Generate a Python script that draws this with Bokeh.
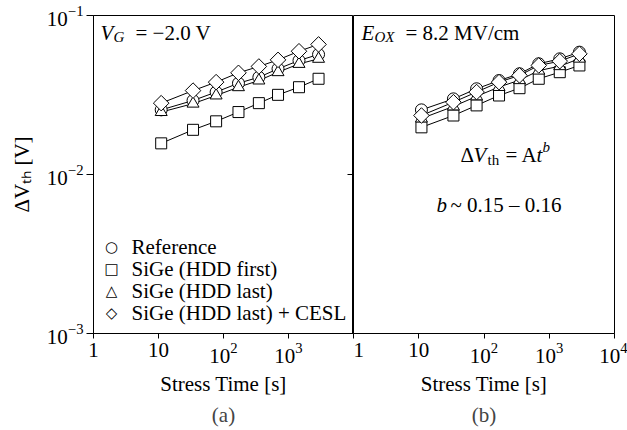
import math
from bokeh.plotting import figure
from bokeh.layouts import row
from bokeh.models import (Range1d, FixedTicker, LogTickFormatter, Label, Title,
                          ColumnDataSource)
from bokeh.embed import file_html
from bokeh.resources import INLINE

# ---------------- data ----------------
stress_time = [11, 34, 77, 170, 350, 690, 1450, 2900]          # s

# (a)  V_G = -2.0 V
a_reference = [0.0255, 0.0292, 0.0330, 0.0375, 0.0409, 0.0462, 0.0521, 0.0569]
a_hdd_first = [0.0157, 0.0191, 0.0216, 0.0247, 0.0281, 0.0317, 0.0354, 0.0400]
a_hdd_last  = [0.0247, 0.0279, 0.0314, 0.0354, 0.0390, 0.0440, 0.0496, 0.0534]
a_hdd_cesl  = [0.0281, 0.0337, 0.0381, 0.0436, 0.0478, 0.0526, 0.0596, 0.0658]

# (b)  E_OX = 8.2 MV/cm
b_reference = [0.0255, 0.0299, 0.0346, 0.0390, 0.0430, 0.0497, 0.0534, 0.0588]
b_hdd_first = [0.0198, 0.0235, 0.0272, 0.0314, 0.0349, 0.0400, 0.0440, 0.0485]
b_hdd_last  = [0.0225, 0.0268, 0.0310, 0.0355, 0.0392, 0.0450, 0.0480, 0.0535]
b_hdd_cesl  = [0.0235, 0.0285, 0.0330, 0.0381, 0.0420, 0.0485, 0.0516, 0.0574]

series_names = ["Reference", "SiGe (HDD first)", "SiGe (HDD last)", "SiGe (HDD last) + CESL"]
legend_symbols = ["\u25CB", "\u25A1", "\u25B3", "\u25C7"]

x_start, x_end = 1, 1e4
y_start, y_end = 1e-3, 1e-1
x_ticks_a = [1, 10, 100, 1000, 10000]
x_ticks_b = [1, 10, 100, 1000, 10000]
y_ticks = [0.001, 0.01, 0.1]

SERIF = "Liberation Serif"
FS = "21px"
SUB = "15px"


def style_axes(p, xticks):
    p.grid.visible = False
    p.outline_line_color = "black"
    p.outline_line_width = 1
    p.background_fill_color = "white"
    p.border_fill_color = "white"
    ax = p.xaxis[0]
    ax.ticker = FixedTicker(ticks=xticks)
    ax.formatter = LogTickFormatter(min_exponent=1)
    ax.major_tick_in = 0
    ax.major_tick_out = 5
    ax.minor_tick_line_color = None
    ax.major_label_standoff = 4
    ax.major_label_text_font = SERIF
    ax.major_label_text_font_size = FS
    ax.major_label_text_color = "black"
    ax.axis_label = "Stress Time [s]"
    ax.axis_label_text_font = SERIF
    ax.axis_label_text_font_size = FS
    ax.axis_label_text_font_style = "normal"
    ax.axis_label_text_color = "black"
    ax.axis_label_standoff = 6
    ax.axis_line_color = "black"
    ax.major_tick_line_color = "black"


def draw_series(p, ref, first, last, cesl):
    src = ColumnDataSource(dict(t=stress_time, ref=ref, first=first, last=last, cesl=cesl))
    for col in ["first", "last", "ref", "cesl"]:
        p.line("t", col, source=src, line_color="black", line_width=1)
    common = dict(source=src, fill_color="white", line_color="black", line_width=1)
    p.scatter("t", "first", marker="square", size=11, **common)
    p.scatter("t", "ref", marker="circle", size=12, **common)
    p.scatter("t", "last", marker="triangle", size=12, **common)
    p.scatter("t", "cesl", marker="square", size=11, angle=math.pi / 4, **common)


def lab(p, text, x, y, size=FS, style="normal", align="left", baseline="alphabetic",
        font=SERIF):
    p.add_layout(Label(x=x, y=y, x_units="screen", y_units="screen", text=text,
                       text_font=font, text_font_size=size, text_font_style=style,
                       text_align=align, text_baseline=baseline, text_color="black"))


# ---------------- panel (a) ----------------
p1 = figure(x_axis_type="log", y_axis_type="log",
            x_range=Range1d(x_start, x_end), y_range=Range1d(y_start, y_end),
            frame_width=260, frame_height=318,
            min_border_left=93, min_border_right=0, min_border_top=15, min_border_bottom=97,
            output_backend="svg", toolbar_location=None)
style_axes(p1, x_ticks_a)
p1.xaxis.major_label_overrides = {10: "10", 10000: ""}
yax = p1.yaxis[0]
yax.ticker = FixedTicker(ticks=y_ticks)
yax.formatter = LogTickFormatter()
yax.major_tick_in = 0
yax.major_tick_out = 7
yax.minor_tick_line_color = None
yax.major_label_standoff = 3
yax.major_label_text_font = SERIF
yax.major_label_text_font_size = FS
yax.major_label_text_color = "black"
yax.axis_line_color = "black"
yax.axis_label = "\u0394V\u209C\u2095 [V]"
yax.axis_label_text_font = SERIF
yax.axis_label_text_font_size = FS
yax.axis_label_text_font_style = "normal"
yax.axis_label_text_color = "black"
yax.axis_label_standoff = 10

p1.add_layout(Title(text="(a)", align="center", text_font=SERIF, text_font_size=FS,
                    text_font_style="normal", standoff=4), "below")

draw_series(p1, a_reference, a_hdd_first, a_hdd_last, a_hdd_cesl)

# inward ticks of panel (b)'s y axis on the shared border
p1.scatter(x=[x_end] * len(y_ticks), y=y_ticks, marker="dash", size=12,
           line_color="black", line_width=1)

# V_G = -2.0 V
lab(p1, "V", 7, 301, style="italic")
lab(p1, "G", 20, 297, size=SUB, style="italic")
lab(p1, "= \u22122.0 V", 42, 301)

# legend
for i, (sym, name) in enumerate(zip(legend_symbols, series_names)):
    yy = 87 - 22 * i
    lab(p1, sym, 18, yy, size="15px", align="center", baseline="middle", font="DejaVu Sans")
    lab(p1, name, 38, yy, baseline="middle")

# ---------------- panel (b) ----------------
p2 = figure(x_axis_type="log", y_axis_type="log",
            x_range=Range1d(x_start, x_end), y_range=Range1d(y_start, y_end),
            frame_width=261, frame_height=318, y_axis_location=None,
            min_border_left=0, min_border_right=13, min_border_top=15, min_border_bottom=97,
            output_backend="svg", toolbar_location=None)
style_axes(p2, x_ticks_b)
p2.xaxis.major_label_overrides = {10: "10"}
p2.add_layout(Title(text="(b)", align="center", text_font=SERIF, text_font_size=FS,
                    text_font_style="normal", standoff=4), "below")

draw_series(p2, b_reference, b_hdd_first, b_hdd_last, b_hdd_cesl)

# E_OX = 8.2 MV/cm
lab(p2, "E", 8, 301, style="italic")
lab(p2, "OX", 21, 297, size=SUB, style="italic")
lab(p2, "= 8.2 MV/cm", 52, 301)

# Delta V_th = A t^b
lab(p2, "\u0394", 107, 179)
lab(p2, "V", 120, 179, style="italic")
lab(p2, "th", 134, 174, size=SUB)
lab(p2, "=", 152, 179)
lab(p2, "A", 168, 179)
lab(p2, "t", 183, 179, style="italic")
lab(p2, "b", 189, 187, size=SUB, style="italic")

# b ~ 0.15 - 0.16
lab(p2, "b", 83, 129, style="italic")
lab(p2, "~ 0.15 \u2013 0.16", 97, 129)

layout = row(p1, p2)
open("out.html", "w").write(file_html(layout, INLINE))
